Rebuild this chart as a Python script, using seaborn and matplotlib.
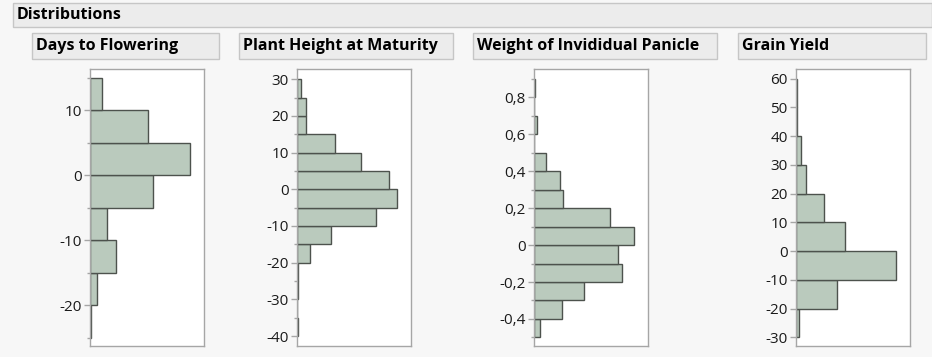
import numpy as np
import pandas as pd
import matplotlib
matplotlib.use("Agg")
import matplotlib.pyplot as plt
import seaborn as sns
from matplotlib.patches import Rectangle
from matplotlib.ticker import MultipleLocator, FuncFormatter

# bin lower edges and counts (bottom to top) for each distribution
days_edges = [-25, -20, -15, -10, -5, 0, 5, 10]
days_counts = [1, 7, 26, 17, 63, 100, 58, 12]

height_edges = [-40, -35, -30, -25, -20, -15, -10, -5, 0, 5, 10, 15, 20, 25]
height_counts = [1, 0, 1, 1, 13, 34, 79, 100, 92, 64, 38, 9, 9, 4]

panicle_edges = [-0.5, -0.4, -0.3, -0.2, -0.1, 0.0, 0.1, 0.2, 0.3, 0.4, 0.5, 0.6, 0.7, 0.8]
panicle_counts = [6, 28, 50, 88, 84, 100, 76, 29, 26, 12, 0, 3, 0, 1]

yield_edges = [-30, -20, -10, 0, 10, 20, 30, 40, 50]
yield_counts = [3, 41, 100, 49, 28, 10, 5, 1, 1]

titles = ["Days to Flowering", "Plant Height at Maturity",
          "Weight of Invididual Panicle", "Grain Yield"]

W, H = 932, 357
BAR = "#bacabd"
EDGE = "#4d524d"
FRAME = "#a6a6a6"

sns.set_style("white")
plt.rcParams["font.family"] = ["Open Sans", "DejaVu Sans"]

fig = plt.figure(figsize=(W / 100, H / 100), dpi=100)
fig.patch.set_facecolor("#f7f7f7")


def header(x0, y0, x1, y1, text, size):
    fig.add_artist(Rectangle((x0 / W, 1 - y1 / H), (x1 - x0) / W, (y1 - y0) / H,
                             transform=fig.transFigure, facecolor="#ececec",
                             edgecolor="#c6c6c6", linewidth=1))
    fig.text((x0 + 4) / W, 1 - (y0 + y1) / 2 / H, text, fontsize=size,
             fontweight="bold", va="center", ha="left", color="#000000")


header(13, 3, 932, 27, "Distributions", 11.5)

panels = [
    dict(edges=days_edges, counts=days_counts, step=5, ylim=(-26.3, 16.3),
         major=10, minor=5, left=90.3, head=(32, 219), dec=False),
    dict(edges=height_edges, counts=height_counts, step=5, ylim=(-42.7, 32.7),
         major=10, minor=5, left=297.3, head=(239, 453), dec=False),
    dict(edges=panicle_edges, counts=panicle_counts, step=0.1, ylim=(-0.546, 0.95),
         major=0.2, minor=0.1, left=534.3, head=(473, 717), dec=True),
    dict(edges=yield_edges, counts=yield_counts, step=10, ylim=(-33.0, 63.2),
         major=10, minor=None, left=796.3, head=(738, 926), dec=False),
]

top, bottom = 69.3, 346.0
for p, title in zip(panels, titles):
    header(p["head"][0], 33, p["head"][1], 58.5, title, 11.5)
    ax = fig.add_axes([p["left"] / W, 1 - bottom / H, 114 / W, (bottom - top) / H])
    ax.set_facecolor("white")
    edges = np.array(p["edges"], dtype=float)
    bins = list(np.append(edges, edges[-1] + p["step"]))
    df = pd.DataFrame({"mid": edges + p["step"] / 2, "n": p["counts"]})
    sns.histplot(data=df, y="mid", weights="n", bins=bins, ax=ax,
                 color=BAR, edgecolor=EDGE, linewidth=1.0, alpha=1)
    ax.set_xlim(0, 114)
    ax.set_ylim(*p["ylim"])
    ax.set_xlabel("")
    ax.set_ylabel("")
    ax.set_xticks([])
    ax.yaxis.set_major_locator(MultipleLocator(p["major"]))
    if p["minor"]:
        ax.yaxis.set_minor_locator(MultipleLocator(p["minor"]))
    if p["dec"]:
        ax.yaxis.set_major_formatter(FuncFormatter(
            lambda v, _: "0" if abs(v) < 1e-9 else f"{v:.1f}".replace(".", ",")))
    else:
        ax.yaxis.set_major_formatter(FuncFormatter(lambda v, _: f"{v:.0f}"))
    ax.tick_params(axis="y", which="both", left=True, direction="out",
                   color=FRAME, width=1, labelsize=11, labelcolor="#1a1a1a", pad=2)
    ax.tick_params(axis="y", which="major", length=4.3)
    ax.tick_params(axis="y", which="minor", length=2.5)
    for s in ax.spines.values():
        s.set_visible(True)
        s.set_color(FRAME)
        s.set_linewidth(1)

fig.savefig("out.png", dpi=100, facecolor=fig.get_facecolor())
